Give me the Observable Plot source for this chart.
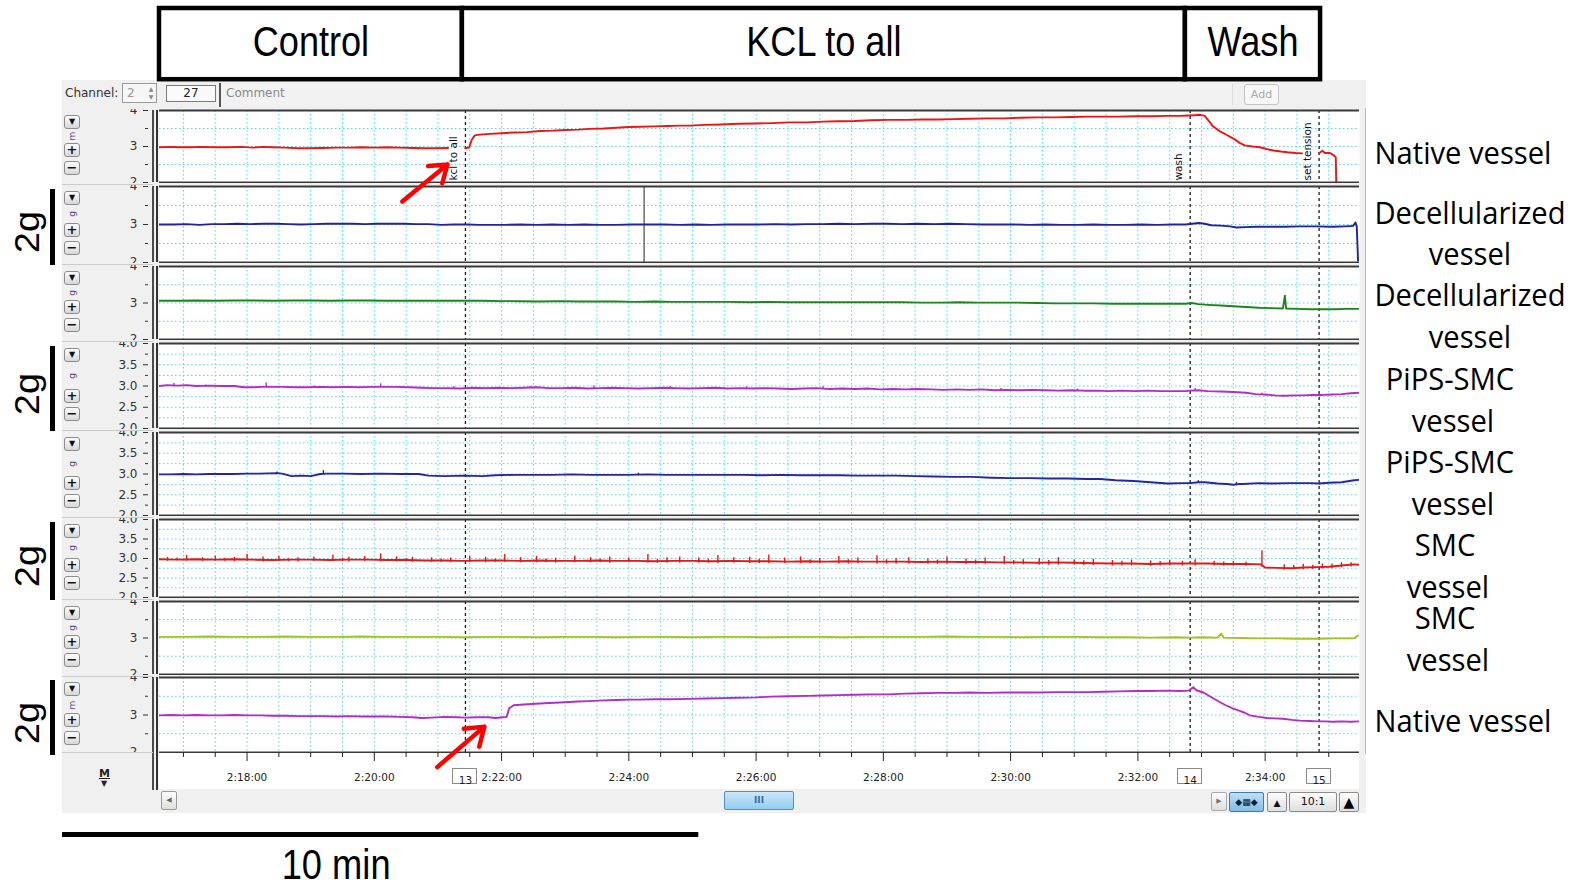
<!DOCTYPE html>
<html>
<head>
<meta charset="utf-8">
<script src="https://cdn.jsdelivr.net/npm/d3@7"></script>
<script src="https://cdn.jsdelivr.net/npm/@observablehq/plot@0.6"></script>
<style>
html,body{margin:0;padding:0;background:#fff;}
#root{position:relative;width:1576px;height:890px;overflow:hidden;font-family:"DejaVu Sans",sans-serif;}
#root .a{position:absolute;box-sizing:border-box;}
.btn{border:1px solid #8c8c8c;border-radius:3px;background:linear-gradient(#ffffff,#d6d6d6);font-size:10px;line-height:12px;text-align:center;color:#111;font-weight:bold;}
.lbl{font-family:"Open Sans",sans-serif;color:#000;font-size:31px;white-space:nowrap;line-height:1;}
</style>
</head>
<body>
<div id="root"></div>
<script>
// ================= DATA =================
// time is in minutes after 2:00:00
const timeDomain = [16.624, 35.483];
const majorTimeTicks = [18, 20, 22, 24, 26, 28, 30, 32, 34];
const eventTimes = [21.432, 32.822, 34.848];
const eventNumbers = ["13", "14", "15"];
const commentTexts = ["kcl to all", "wash", "set tension"];
const cursorTimes = [24.24];
const phaseLabels = ["Control", "KCL to all", "Wash"];
const phaseEdges = [16.624, 21.384, 32.747, 34.871];
const scaleBarMinutes = [15.10, 25.10];
const scaleBarLabel = "10 min";
const channelLabels = [
  ["Native vessel"], ["Decellularized", "vessel"], ["Decellularized", "vessel"],
  ["PiPS-SMC", "vessel"], ["PiPS-SMC", "vessel"], ["SMC", "vessel"], ["SMC", "vessel"], ["Native vessel"]
];
const channelUnits = ["m", "g", "g", "g", "g", "g", "g", "m"];
const gainLabel = "2g";
const gainChannels = [1, 3, 5, 7];
const coarseTicks = [2, 3, 4], coarseMinor = [2.5, 3.5];
const fineTicks = [2, 2.5, 3, 3.5, 4], fineMinor = [2.25, 2.75, 3.25, 3.75];

// arrows: [t1, v1, t2, v2]
const arrowTop = [[20.44, 1.47, 21.15, 2.50]];
const arrowBottom = [[20.99, 1.61, 21.73, 2.69]];

const nativeA = [
[16.62,2.98],[16.80,2.99],[16.95,2.98],[17.10,2.98],[17.30,2.99],[17.50,2.98],[17.70,2.98],[17.90,2.99],[18.10,2.97],[18.25,2.99],[18.40,2.98],[18.60,2.97],[18.80,2.95],[19.00,2.95],[19.20,2.96],[19.40,2.97],[19.60,2.97],[19.80,2.98],[20.00,2.97],[20.20,2.98],[20.40,2.97],[20.60,2.96],[20.80,2.95],[21.00,2.95],[21.16,2.96],
[21.17,null],
[21.43,2.95],[21.49,2.97],[21.53,3.18],[21.58,3.31],[21.65,3.33],[21.82,3.35],[22.00,3.37],[22.20,3.39],[22.40,3.40],[22.61,3.43],[22.80,3.44],[23.00,3.46],[23.20,3.47],[23.38,3.49],[23.60,3.50],[23.80,3.52],[24.00,3.54],[24.17,3.55],[24.40,3.56],[24.60,3.57],[24.80,3.58],[24.95,3.58],[25.20,3.60],[25.45,3.61],[25.72,3.63],[26.00,3.64],[26.25,3.65],[26.51,3.67],[26.80,3.67],[27.05,3.69],[27.29,3.70],[27.55,3.71],[27.80,3.73],[28.08,3.74],[28.35,3.74],[28.60,3.75],[28.85,3.75],[29.10,3.76],[29.35,3.77],[29.63,3.78],[29.90,3.78],[30.15,3.80],[30.42,3.81],[30.70,3.81],[30.95,3.82],[31.20,3.83],[31.45,3.83],[31.70,3.83],[31.97,3.84],[32.20,3.84],[32.45,3.85],[32.65,3.85],[32.80,3.86],[32.90,3.87],[32.98,3.88],[33.05,3.85],[33.12,3.70],[33.18,3.56],[33.29,3.42],[33.40,3.32],[33.50,3.22],[33.60,3.10],[33.68,3.03],[33.80,3.00],[33.92,2.98],[34.02,2.93],[34.13,2.89],[34.25,2.86],[34.35,2.84],[34.48,2.82],[34.58,2.81],
[34.60,null],
[34.85,2.82],[34.90,2.88],[34.94,2.82],[35.02,2.82],[35.09,2.74],[35.11,2.70],[35.12,1.80]
];
const decellA = [
[16.62,3.00],[16.85,3.00],[17.05,3.01],[17.25,2.99],[17.45,3.01],[17.65,3.01],[17.85,3.02],[18.05,3.01],[18.25,3.02],[18.45,3.02],[18.65,3.01],[18.85,3.00],[19.05,3.01],[19.25,3.02],[19.45,3.02],[19.65,3.02],[19.85,3.01],[20.05,3.02],[20.25,3.02],[20.45,3.02],[20.65,3.01],[20.85,3.01],[21.05,2.99],[21.25,3.00],[21.45,3.00],[21.65,2.99],[21.85,2.99],[22.05,2.99],[22.30,3.00],[22.55,2.99],[22.80,3.00],[23.05,2.99],[23.30,3.00],[23.55,2.99],[23.80,2.99],[24.05,3.00],[24.30,3.00],[24.55,3.00],[24.80,2.99],[25.05,3.00],[25.30,2.99],[25.55,3.00],[25.80,3.00],[26.05,3.00],[26.30,3.01],[26.55,3.00],[26.80,3.01],[27.05,3.01],[27.30,3.02],[27.55,3.01],[27.80,3.02],[28.05,3.02],[28.30,3.01],[28.55,3.02],[28.80,3.01],[29.05,3.02],[29.30,3.01],[29.55,3.00],[29.80,3.00],[30.05,3.00],[30.30,2.99],[30.55,3.00],[30.80,2.99],[31.05,2.99],[31.30,3.00],[31.55,2.99],[31.80,2.99],[32.05,3.00],[32.30,2.99],[32.55,3.00],[32.75,3.00],[32.85,3.02],[32.95,3.04],[33.05,3.02],[33.15,2.98],[33.30,2.97],[33.45,2.95],[33.55,2.92],[33.70,2.93],[33.85,2.94],[34.05,2.94],[34.30,2.94],[34.55,2.95],[34.80,2.95],[35.05,2.94],[35.25,2.95],[35.38,2.96],[35.42,3.05],[35.44,2.95],[35.46,2.05]
];
const decellB = [
[16.62,3.06],[16.90,3.06],[17.20,3.07],[17.50,3.06],[17.80,3.07],[18.10,3.07],[18.40,3.06],[18.70,3.07],[19.00,3.07],[19.30,3.06],[19.60,3.07],[19.90,3.07],[20.20,3.06],[20.50,3.06],[20.80,3.06],[21.10,3.06],[21.43,3.06],[21.70,3.06],[22.00,3.05],[22.30,3.05],[22.60,3.04],[22.90,3.05],[23.20,3.04],[23.50,3.04],[23.80,3.04],[24.10,3.03],[24.40,3.04],[24.70,3.03],[25.00,3.03],[25.30,3.03],[25.60,3.03],[25.90,3.02],[26.20,3.03],[26.50,3.02],[26.80,3.02],[27.10,3.02],[27.40,3.02],[27.70,3.02],[28.00,3.02],[28.30,3.02],[28.60,3.01],[28.90,3.01],[29.20,3.02],[29.50,3.01],[29.80,3.01],[30.10,3.01],[30.40,3.00],[30.70,2.99],[31.00,2.99],[31.30,2.99],[31.60,2.98],[31.90,2.98],[32.20,2.98],[32.50,2.98],[32.75,2.98],[32.85,3.00],[32.95,2.97],[33.10,2.95],[33.30,2.93],[33.50,2.91],[33.70,2.89],[33.90,2.87],[34.10,2.86],[34.28,2.85],[34.31,3.20],[34.33,2.85],[34.50,2.84],[34.70,2.83],[34.90,2.83],[35.10,2.83],[35.30,2.84],[35.48,2.84]
];
const pipsA = [
[16.62,3.00],[16.75,3.02],[16.90,3.01],[17.05,3.02],[17.20,3.00],[17.40,3.01],[17.60,3.00],[17.80,3.00],[17.95,2.97],[18.10,2.97],[18.25,2.98],[18.35,2.98],[18.55,2.98],[18.75,2.97],[18.95,2.97],[19.15,2.98],[19.35,2.97],[19.55,2.98],[19.75,2.97],[19.95,2.98],[20.15,2.98],[20.35,2.98],[20.55,2.97],[20.75,2.96],[20.95,2.95],[21.15,2.95],[21.35,2.94],[21.55,2.96],[21.75,2.95],[21.95,2.96],[22.15,2.95],[22.35,2.96],[22.55,2.97],[22.75,2.95],[22.95,2.95],[23.15,2.96],[23.35,2.94],[23.55,2.95],[23.75,2.96],[23.95,2.95],[24.15,2.94],[24.35,2.95],[24.55,2.96],[24.75,2.95],[24.95,2.94],[25.15,2.95],[25.35,2.96],[25.55,2.94],[25.75,2.95],[25.95,2.94],[26.15,2.95],[26.35,2.94],[26.55,2.93],[26.75,2.94],[26.95,2.95],[27.15,2.93],[27.35,2.94],[27.55,2.93],[27.75,2.94],[27.95,2.92],[28.15,2.93],[28.35,2.92],[28.55,2.93],[28.75,2.92],[28.95,2.91],[29.15,2.92],[29.35,2.91],[29.55,2.92],[29.75,2.90],[29.95,2.91],[30.15,2.90],[30.35,2.91],[30.55,2.90],[30.75,2.89],[30.95,2.90],[31.15,2.89],[31.35,2.89],[31.55,2.88],[31.75,2.89],[31.95,2.88],[32.15,2.89],[32.35,2.88],[32.55,2.88],[32.75,2.88],[32.82,2.89],[32.95,2.90],[33.10,2.88],[33.30,2.87],[33.50,2.86],[33.70,2.84],[33.85,2.81],[34.00,2.80],[34.15,2.78],[34.30,2.77],[34.45,2.78],[34.60,2.78],[34.75,2.79],[34.90,2.79],[35.05,2.80],[35.20,2.81],[35.35,2.83],[35.48,2.84]
];
const pipsASpikes = [
[16.85,2.98,3.06],[17.35,2.98,3.02],[18.30,2.96,3.07],[19.05,2.95,3.00],[20.10,2.96,3.05],[21.25,2.93,2.98],[22.45,2.94,2.99],[23.45,2.93,3.00],[24.65,2.93,2.99],[25.85,2.92,2.98],[27.05,2.92,2.98],[28.45,2.90,2.95],[29.85,2.89,2.94],[31.05,2.88,2.93],[32.90,2.87,2.94],[33.95,2.78,2.83]
];
const pipsB = [
[16.62,2.99],[16.80,2.99],[17.00,3.00],[17.20,2.99],[17.40,3.00],[17.60,3.00],[17.80,3.00],[18.00,3.01],[18.20,3.01],[18.47,3.02],[18.55,3.01],[18.70,2.95],[18.85,2.96],[19.00,2.95],[19.15,3.00],[19.25,3.01],[19.50,3.01],[19.80,3.00],[20.10,3.01],[20.40,3.00],[20.70,3.00],[20.85,2.96],[21.10,2.95],[21.40,2.96],[21.70,2.95],[21.90,2.97],[22.20,2.98],[22.50,2.98],[22.80,2.98],[23.10,2.99],[23.40,2.98],[23.70,2.98],[24.00,2.98],[24.30,2.99],[24.60,2.98],[24.90,2.98],[25.20,2.98],[25.50,2.98],[25.80,2.98],[26.10,2.97],[26.40,2.98],[26.70,2.97],[27.00,2.97],[27.30,2.97],[27.60,2.96],[27.90,2.96],[28.20,2.96],[28.50,2.95],[28.80,2.94],[29.10,2.93],[29.40,2.93],[29.70,2.91],[30.00,2.90],[30.30,2.90],[30.60,2.89],[30.90,2.89],[31.20,2.88],[31.41,2.88],[31.65,2.85],[31.93,2.83],[32.20,2.80],[32.46,2.77],[32.70,2.78],[32.82,2.78],[32.95,2.80],[33.05,2.80],[33.25,2.77],[33.40,2.76],[33.50,2.74],[33.60,2.76],[33.65,2.76],[33.90,2.78],[34.10,2.77],[34.40,2.78],[34.70,2.78],[34.85,2.77],[35.00,2.79],[35.20,2.80],[35.40,2.85],[35.48,2.86]
];
const pipsBSpikes = [
[18.47,3.00,3.05],[19.20,2.99,3.08],[24.15,2.96,3.02],[32.95,2.77,2.84],[33.55,2.73,2.80]
];
const smcA = [
[16.62,2.98],[16.90,2.97],[17.20,2.98],[17.50,2.97],[17.80,2.98],[18.10,2.97],[18.40,2.96],[18.70,2.97],[19.00,2.97],[19.30,2.96],[19.60,2.97],[19.90,2.97],[20.20,2.96],[20.50,2.96],[20.80,2.95],[21.10,2.95],[21.40,2.94],[21.70,2.95],[22.00,2.95],[22.30,2.94],[22.60,2.95],[22.90,2.94],[23.20,2.94],[23.50,2.95],[23.80,2.94],[24.10,2.94],[24.40,2.93],[24.70,2.94],[25.00,2.94],[25.30,2.93],[25.60,2.94],[25.90,2.93],[26.20,2.93],[26.50,2.92],[26.80,2.93],[27.10,2.92],[27.40,2.93],[27.70,2.92],[28.00,2.92],[28.30,2.92],[28.60,2.91],[28.90,2.92],[29.20,2.91],[29.50,2.91],[29.80,2.90],[30.10,2.90],[30.40,2.89],[30.70,2.90],[31.00,2.89],[31.30,2.88],[31.60,2.87],[31.90,2.87],[32.20,2.86],[32.50,2.87],[32.80,2.87],[33.10,2.87],[33.40,2.86],[33.70,2.86],[33.93,2.85],[34.00,2.77],[34.20,2.76],[34.40,2.75],[34.60,2.77],[34.80,2.78],[35.00,2.79],[35.20,2.82],[35.40,2.85],[35.48,2.84]
];
const smcASpikes = [
[16.75,2.93,3.03],[16.90,2.94,3.01],[17.05,2.93,3.08],[17.30,2.92,3.02],[17.50,2.93,3.06],[17.65,2.93,3.00],[17.80,2.92,3.03],[18.00,2.93,3.10],[18.25,2.91,3.04],[18.50,2.92,3.05],[18.65,2.92,3.00],[18.80,2.91,3.02],[19.05,2.92,3.04],[19.35,2.92,3.09],[19.50,2.92,3.01],[19.60,2.91,3.03],[19.85,2.92,3.05],[20.10,2.91,3.12],[20.35,2.91,3.04],[20.50,2.91,3.00],[20.60,2.90,3.03],[20.90,2.90,3.02],[21.05,2.90,2.99],[21.20,2.89,3.01],[21.50,2.90,3.05],[21.75,2.89,3.03],[21.90,2.90,2.99],[22.05,2.90,3.10],[22.30,2.89,3.02],[22.55,2.89,3.05],[22.70,2.89,2.99],[22.85,2.88,3.01],[23.15,2.89,3.06],[23.40,2.89,3.02],[23.55,2.89,2.99],[23.70,2.88,3.04],[24.00,2.89,3.01],[24.30,2.88,3.10],[24.45,2.88,2.98],[24.60,2.88,3.02],[24.80,2.88,3.04],[25.10,2.88,3.01],[25.25,2.88,2.98],[25.40,2.87,3.08],[25.65,2.88,3.02],[25.90,2.87,3.03],[26.05,2.87,2.98],[26.20,2.87,3.09],[26.45,2.87,3.01],[26.70,2.87,3.04],[26.85,2.87,2.97],[27.00,2.87,3.00],[27.30,2.86,3.05],[27.45,2.86,2.97],[27.60,2.87,3.01],[27.90,2.86,3.07],[28.05,2.86,2.97],[28.20,2.86,3.00],[28.40,2.86,3.02],[28.70,2.85,2.99],[28.85,2.85,2.96],[29.00,2.85,3.04],[29.30,2.85,2.99],[29.45,2.85,2.96],[29.60,2.85,3.01],[29.90,2.84,3.05],[30.05,2.84,2.95],[30.20,2.84,2.97],[30.45,2.83,3.00],[30.60,2.83,2.95],[30.75,2.83,3.02],[31.00,2.83,2.96],[31.15,2.82,2.94],[31.30,2.82,2.98],[31.60,2.81,2.95],[31.75,2.81,2.93],[31.90,2.81,2.96],[32.20,2.80,2.94],[32.35,2.81,2.92],[32.50,2.81,2.95],[32.70,2.81,2.93],[32.90,2.81,2.97],[33.20,2.81,2.93],[33.35,2.80,2.91],[33.50,2.80,2.92],[33.70,2.80,2.91],[33.95,2.78,3.20],[34.30,2.70,2.84],[34.45,2.71,2.82],[34.60,2.71,2.85],[34.75,2.72,2.83],[34.90,2.73,2.86],[35.05,2.74,2.86],[35.20,2.76,2.89],[35.35,2.78,2.89]
];
const smcB = [
[16.62,3.03],[17.00,3.03],[17.40,3.04],[17.80,3.03],[18.20,3.03],[18.60,3.04],[19.00,3.03],[19.40,3.03],[19.80,3.04],[20.20,3.03],[20.60,3.03],[21.00,3.03],[21.40,3.02],[21.80,3.03],[22.20,3.03],[22.60,3.02],[23.00,3.03],[23.40,3.03],[23.80,3.02],[24.20,3.03],[24.60,3.03],[25.00,3.02],[25.40,3.03],[25.80,3.03],[26.20,3.02],[26.60,3.03],[27.00,3.03],[27.40,3.02],[27.80,3.03],[28.20,3.03],[28.60,3.03],[29.00,3.04],[29.40,3.03],[29.80,3.03],[30.20,3.02],[30.60,3.03],[31.00,3.03],[31.40,3.02],[31.80,3.02],[32.20,3.01],[32.60,3.02],[32.82,3.01],[33.00,3.02],[33.25,3.01],[33.31,3.12],[33.35,3.01],[33.60,3.00],[33.90,2.99],[34.20,2.99],[34.50,2.98],[34.80,2.98],[35.10,2.99],[35.40,2.99],[35.46,3.07]
];
const nativeB = [
[16.62,2.99],[16.80,3.00],[17.00,2.99],[17.20,3.00],[17.40,2.99],[17.60,2.99],[17.80,3.00],[18.00,2.99],[18.20,2.99],[18.40,2.98],[18.60,2.98],[18.80,2.97],[19.00,2.97],[19.20,2.97],[19.40,2.96],[19.60,2.97],[19.80,2.96],[20.00,2.96],[20.20,2.96],[20.40,2.95],[20.60,2.94],[20.75,2.92],[20.90,2.93],[21.10,2.95],[21.30,2.94],[21.43,2.93],[21.60,2.94],[21.80,2.94],[21.90,2.92],[22.02,2.94],[22.08,2.95],[22.12,3.18],[22.19,3.26],[22.35,3.28],[22.53,3.30],[22.75,3.32],[23.00,3.34],[23.20,3.36],[23.38,3.37],[23.60,3.39],[23.80,3.40],[24.00,3.41],[24.17,3.41],[24.40,3.42],[24.65,3.42],[24.95,3.43],[25.20,3.44],[25.45,3.45],[25.72,3.46],[26.00,3.47],[26.25,3.49],[26.51,3.50],[26.80,3.51],[27.05,3.52],[27.29,3.53],[27.55,3.54],[27.80,3.55],[28.08,3.55],[28.35,3.57],[28.60,3.58],[28.85,3.59],[29.10,3.59],[29.35,3.60],[29.63,3.59],[29.90,3.60],[30.15,3.60],[30.42,3.60],[30.70,3.61],[30.95,3.61],[31.20,3.61],[31.45,3.62],[31.70,3.63],[31.97,3.64],[32.20,3.64],[32.45,3.65],[32.65,3.64],[32.80,3.65],[32.87,3.74],[32.92,3.66],[33.03,3.60],[33.15,3.48],[33.25,3.38],[33.38,3.26],[33.50,3.17],[33.60,3.11],[33.68,3.06],[33.76,2.99],[33.90,2.95],[34.03,2.92],[34.15,2.91],[34.28,2.90],[34.42,2.87],[34.55,2.85],[34.70,2.84],[34.82,2.83],[34.95,2.83],[35.07,2.82],[35.20,2.83],[35.35,2.82],[35.48,2.83]
];
const series = [nativeA, decellA, decellB, pipsA, pipsB, smcA, smcB, nativeB];
const spikeSeries = [null, null, null, pipsASpikes, pipsBSpikes, smcASpikes, null, null];

// ================= STYLE / LAYOUT =================
const traceColors = ["#ee1414", "#22229e", "#1c861c", "#b22cc8", "#2626a4", "#e81616", "#a6c21c", "#b22cc8"];
const GRID = "#3fdcf0";
const SVG_LEFT = 62, SVG_W = 1304, M_L = 97, M_R = 7;
const panelTop = [110, 186, 266, 343, 432, 519, 601, 677];
const panelBottom = [182, 262, 339, 428, 515, 597, 674, 752];
const fineSet = new Set([3, 4, 5]);
const gridTimes = d3.range(17, 35.5, 0.5);
const minorTimeTicks = d3.range(17, 35.5, 0.5).filter(t => !majorTimeTicks.includes(t));
const labelLayout = [
  [[1463, 152]], [[1470, 212], [1470, 253]], [[1470, 294], [1470, 336]],
  [[1450, 378], [1453, 420]], [[1450, 461], [1453, 503]],
  [[1445, 544], [1448, 586]], [[1445, 617], [1448, 659]], [[1463, 720]]
];

const root = document.getElementById("root");
function box(css, html, cls) {
  const d = document.createElement("div");
  d.className = "a" + (cls ? " " + cls : "");
  d.style.cssText = css;
  if (html != null) d.innerHTML = html;
  root.appendChild(d);
  return d;
}
// horizontally condense text of a Plot SVG about each text anchor
function squeeze(svg, s) {
  svg.querySelectorAll('g[aria-label="text"] text').forEach(t => {
    const xa = t.getAttribute("x");
    if (xa != null && !isNaN(+xa)) t.setAttribute("x", +xa / s);
    const tr = t.getAttribute("transform") || "";
    t.setAttribute("transform", `${tr} scale(${s},1)`);
  });
}
const fmtClock = t => "2:" + String(t).padStart(2, "0") + ":00";

// gray application area
box("left:62px;top:80px;width:1304px;height:733px;background:#f0f0f0;");
box("left:1365px;top:108px;width:1px;height:646px;background:#b8b8b8;");

// ---------- header (phase boxes) ----------
{
  const phases = phaseLabels.map((label, k) => ({label, x1: phaseEdges[k], x2: phaseEdges[k + 1]}));
  const h = 88;
  const svg = Plot.plot({
    width: SVG_W, height: h, marginLeft: M_L, marginRight: M_R, marginTop: 8, marginBottom: h - 79.2,
    x: {domain: timeDomain, axis: null},
    style: {background: "transparent", overflow: "visible", fontFamily: "'Liberation Sans', Arial, sans-serif", color: "#000"},
    marks: [
      Plot.rect(phases, {x1: "x1", x2: "x2", fill: "white", stroke: "black", strokeWidth: 4.5}),
      Plot.text(phases, {x: d => (d.x1 + d.x2) / 2, text: "label", fontSize: 42, fill: "black", dy: -2})
    ]
  });
  squeeze(svg, 0.86);
  const hd = box(`left:${SVG_LEFT}px;top:0px;width:${SVG_W}px;height:${h}px;z-index:3;`);
  hd.appendChild(svg);
}

// ---------- channel row ----------
box("left:65px;top:85px;font-size:12px;color:#333;line-height:16px;", "Channel:");
box("left:122px;top:83px;width:35px;height:20px;border:1px solid #9a9a9a;background:#f6f6f6;font-size:12px;color:#9a9a9a;line-height:18px;padding-left:4px;", "2");
box("left:147px;top:85px;width:8px;height:16px;font-size:6px;color:#888;line-height:8px;text-align:center;", "▲<br>▼");
box("left:166px;top:85px;width:50px;height:17px;border:1px solid #7a7a7a;background:#fafafa;font-size:12px;color:#222;line-height:15px;text-align:center;", "27");
box("left:219px;top:83px;width:2px;height:24px;background:#555;");
box("left:221px;top:84px;width:1012px;height:21px;background:#f2f2f2;border-right:1px solid #dcdcdc;");
box("left:226px;top:85px;font-size:12px;color:#8a8a8a;line-height:16px;", "Comment");
box("left:1244px;top:84px;width:35px;height:21px;border:1px solid #c4c4c4;border-radius:3px;background:#f7f7f7;font-size:11px;color:#a8a8a8;line-height:19px;text-align:center;", "Add");

// ---------- channel panels ----------
series.forEach((data, i) => {
  const top = panelTop[i], bot = panelBottom[i], h = bot - top;
  const fine = fineSet.has(i);
  if (i > 0) box(`left:62px;top:${Math.round((panelBottom[i - 1] + top) / 2)}px;width:91px;height:1px;background:#cacaca;`);
  box(`left:64px;top:${top + 5}px;width:16px;height:14px;font-size:8px;`, "▼", "btn");
  box(`left:64px;top:${bot - 39}px;width:16px;height:14px;font-size:13px;line-height:11px;`, "+", "btn");
  box(`left:64px;top:${bot - 21}px;width:16px;height:14px;font-size:13px;line-height:11px;`, "−", "btn");
  box(`left:67px;top:${Math.round((top + 12 + bot - 32) / 2) - 6}px;width:10px;height:12px;font-size:9px;line-height:12px;color:#5a4a7a;text-align:center;transform:rotate(-90deg);`, channelUnits[i]);
  box(`left:152px;top:${top}px;width:1.5px;height:${h}px;background:#4a4a4a;`);
  box(`left:156px;top:${top}px;width:2px;height:${h}px;background:#333;`);

  const marks = [
    Plot.frame({fill: "white", stroke: "none"}),
    Plot.ruleX(gridTimes, {stroke: GRID, strokeDasharray: "1.5,2.5", strokeWidth: 1}),
    Plot.ruleY(fine ? [2.25, 2.5, 2.75, 3, 3.25, 3.5, 3.75] : [2.5, 3, 3.5], {stroke: GRID, strokeDasharray: "1.5,2.5", strokeWidth: 1}),
    Plot.ruleX(eventTimes, {stroke: "#1a1a1a", strokeDasharray: "3,3", strokeWidth: 1.3})
  ];
  if (i === 1) marks.push(Plot.ruleX(cursorTimes, {stroke: "#555", strokeWidth: 1.3}));
  if (spikeSeries[i]) marks.push(Plot.ruleX(spikeSeries[i], {x: d => d[0], y1: d => d[1], y2: d => d[2], stroke: traceColors[i], strokeWidth: 1.4}));
  marks.push(Plot.line(data, {x: d => d[0], y: d => d[1], stroke: traceColors[i], strokeWidth: 1.9, clip: true}));
  if (i === 0) marks.push(Plot.text(eventTimes, {
    x: d => d, text: (d, j) => commentTexts[j], frameAnchor: "bottom", rotate: -90, textAnchor: "start",
    dx: -8, dy: -2, fontSize: 10.5, fill: "#111"
  }));
  marks.push(
    Plot.ruleY([4], {stroke: "#3a3a3a", strokeWidth: 2}),
    Plot.ruleY([2], {stroke: "#3a3a3a", strokeWidth: 2}),
    Plot.axisY({ticks: fine ? fineTicks : coarseTicks, tickSize: 5, tickPadding: 6, dx: -11,
      tickFormat: fine ? (d => d.toFixed(1)) : (d => String(d)), fontSize: 12}),
    Plot.axisY({ticks: fine ? fineMinor : coarseMinor, tickSize: 3, dx: -11, tickFormat: () => ""})
  );
  const svg = Plot.plot({
    width: SVG_W, height: h + 2, marginLeft: M_L, marginRight: M_R, marginTop: 1, marginBottom: 1,
    x: {domain: timeDomain, axis: null},
    y: {domain: [2, 4]},
    style: {background: "transparent", overflow: "hidden", fontFamily: "'DejaVu Sans', sans-serif", fontSize: "12px", color: "#333"},
    marks
  });
  const holder = box(`left:${SVG_LEFT}px;top:${top - 1}px;width:${SVG_W}px;height:${h + 2}px;overflow:hidden;`);
  holder.appendChild(svg);

  channelLabels[i].forEach((txt, k) => {
    const [cx, cy] = labelLayout[i][k];
    box(`left:${cx}px;top:${cy}px;transform:translate(-50%,-50%) scaleX(0.94);`, txt, "lbl");
  });
  if (gainChannels.includes(i)) {
    box(`left:50px;top:${top + 3}px;width:5px;height:${h}px;background:#000;`);
    box(`left:27px;top:${(top + bot) / 2 + 8}px;font-family:'Liberation Sans',Arial,sans-serif;font-size:38px;line-height:1;white-space:nowrap;transform:translate(-50%,-50%) scaleX(0.92) rotate(-90deg);`, gainLabel);
  }
});

// ---------- time axis ----------
box("left:159px;top:753px;width:1200px;height:36px;background:#fff;");
box("left:152px;top:752px;width:1.5px;height:38px;background:#4a4a4a;");
box("left:156px;top:752px;width:2px;height:38px;background:#333;");
box("left:62px;top:752px;width:91px;height:1px;background:#cacaca;");
box("left:99px;top:768px;font-size:11px;font-weight:bold;color:#222;line-height:11px;text-decoration:underline;", "M");
box("left:101px;top:780px;font-size:8px;color:#222;line-height:8px;", "▼");
{
  const svg = Plot.plot({
    width: SVG_W, height: 40, marginLeft: M_L, marginRight: M_R, marginTop: 1, marginBottom: 39,
    x: {domain: timeDomain},
    style: {background: "transparent", overflow: "visible", fontFamily: "'DejaVu Sans', sans-serif", color: "#222"},
    marks: [
      Plot.axisX({ticks: minorTimeTicks, tickSize: 5, tickFormat: () => ""}),
      Plot.axisX({ticks: majorTimeTicks, tickSize: 9, tickPadding: 12, tickFormat: fmtClock, fontSize: 10.5})
    ]
  });
  const sx = svg.scale("x");
  eventTimes.forEach(t => {
    const cx = SVG_LEFT + sx.apply(t);
    box(`left:${cx - 12.5}px;top:768px;width:25px;height:16px;border:1px solid #8a8a8a;background:#fff;`);
  });
  const ev = Plot.plot({
    width: SVG_W, height: 40, marginLeft: M_L, marginRight: M_R, marginTop: 1, marginBottom: 39,
    x: {domain: timeDomain, axis: null},
    style: {background: "transparent", overflow: "visible", fontFamily: "'DejaVu Sans', sans-serif", color: "#222"},
    marks: [Plot.text(eventTimes, {x: d => d, text: (d, j) => eventNumbers[j], frameAnchor: "top", dy: 24, fontSize: 10.5, fill: "#222"})]
  });
  const h1 = box(`left:${SVG_LEFT}px;top:751px;width:${SVG_W}px;height:40px;`);
  h1.appendChild(svg);
  const h2 = box(`left:${SVG_LEFT}px;top:751px;width:${SVG_W}px;height:40px;`);
  h2.appendChild(ev);
}

// ---------- scroll bar row ----------
box("left:161px;top:791px;width:16px;height:19px;border:1px solid #9a9a9a;border-radius:2px;background:linear-gradient(#fdfdfd,#dedede);font-size:7px;color:#666;line-height:17px;text-align:center;", "◀");
box("left:724px;top:791px;width:70px;height:19px;border:1px solid #4f8fc4;border-radius:2px;background:linear-gradient(#cbe8fa,#92cdef);font-size:9px;color:#3a6e9a;line-height:17px;text-align:center;font-weight:bold;", "III");
box("left:1211px;top:792px;width:16px;height:19px;border:1px solid #aaa;border-radius:2px;background:linear-gradient(#fdfdfd,#dedede);font-size:7px;color:#777;line-height:17px;text-align:center;", "▶");
box("left:1229px;top:792px;width:35px;height:20px;border:1px solid #3c7fb8;border-radius:2px;background:linear-gradient(#bfe0f6,#7fbde6);font-size:9px;color:#123;line-height:18px;text-align:center;", "◆▦◆");
box("left:1267px;top:792px;width:20px;height:20px;border:1px solid #8c8c8c;border-radius:2px;background:linear-gradient(#fdfdfd,#dedede);font-size:9px;color:#111;line-height:20px;text-align:center;", "▲");
box("left:1289px;top:792px;width:48px;height:20px;border:1px solid #8c8c8c;border-radius:2px;background:linear-gradient(#fdfdfd,#dedede);font-size:11px;color:#111;line-height:18px;text-align:center;", "10:1");
box("left:1339px;top:792px;width:20px;height:20px;border:1px solid #8c8c8c;border-radius:2px;background:linear-gradient(#fdfdfd,#dedede);font-size:14px;color:#000;line-height:19px;text-align:center;", "▲");

// ---------- arrows (overlay layers using the panel scales) ----------
[[0, arrowTop], [7, arrowBottom]].forEach(([i, arr]) => {
  const top = panelTop[i], h = panelBottom[i] - top;
  const svg = Plot.plot({
    width: SVG_W, height: h + 2, marginLeft: M_L, marginRight: M_R, marginTop: 1, marginBottom: 1,
    x: {domain: timeDomain, axis: null}, y: {domain: [2, 4], axis: null},
    style: {background: "transparent", overflow: "visible"},
    marks: [Plot.arrow(arr, {x1: d => d[0], y1: d => d[1], x2: d => d[2], y2: d => d[3], stroke: "#ff0000", strokeWidth: 4.5, headLength: 11, headAngle: 70})]
  });
  const holder = box(`left:${SVG_LEFT}px;top:${top - 1}px;width:${SVG_W}px;height:${h + 2}px;z-index:5;pointer-events:none;`);
  holder.appendChild(svg);
});

// ---------- 10 min scale bar ----------
{
  const svg = Plot.plot({
    width: SVG_W, height: 75, marginLeft: M_L, marginRight: M_R, marginTop: 19, marginBottom: 25,
    x: {domain: timeDomain, axis: null}, y: {domain: [0, 1], axis: null},
    style: {background: "transparent", overflow: "visible", fontFamily: "'Liberation Sans', Arial, sans-serif"},
    marks: [
      Plot.ruleY([{y: 1, a: scaleBarMinutes[0], b: scaleBarMinutes[1]}], {y: "y", x1: "a", x2: "b", stroke: "#000", strokeWidth: 5}),
      Plot.text([scaleBarLabel], {x: () => 19.40, y: () => 0, text: d => d, fontSize: 42, fill: "#000"})
    ]
  });
  squeeze(svg, 0.865);
  const holder = box(`left:${SVG_LEFT}px;top:815px;width:${SVG_W}px;height:75px;`);
  holder.appendChild(svg);
}
</script>
</body>
</html>
